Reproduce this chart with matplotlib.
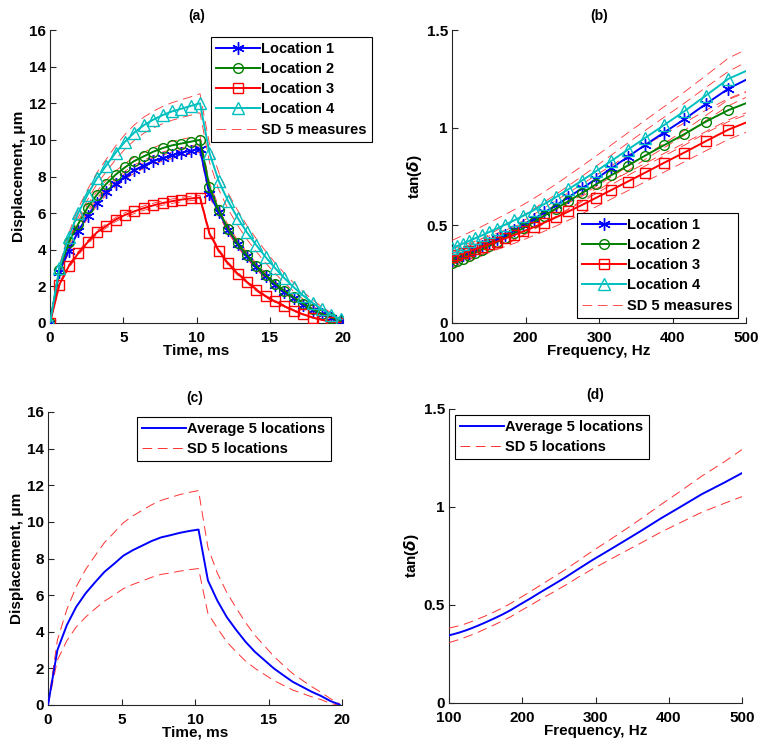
import matplotlib
matplotlib.use("Agg")
import matplotlib.pyplot as plt
import numpy as np

plt.rcParams['font.family'] = ['Liberation Sans', 'DejaVu Sans']
plt.rcParams['font.weight'] = 'bold'
plt.rcParams['lines.scale_dashes'] = False

# ---------------- data ----------------
time_ms = [0, 0.64, 1.28, 1.92, 2.56, 3.2, 3.84, 4.48, 5.12, 5.76, 6.4, 7.04, 7.68,
           8.32, 8.96, 9.6, 10.24, 10.88, 11.52, 12.16, 12.8, 13.44, 14.08, 14.72,
           15.36, 16.0, 16.64, 17.28, 17.92, 18.56, 19.2, 19.84]

disp_loc1 = [0, 2.8, 3.95, 5.0, 5.85, 6.55, 7.15, 7.6, 8.0, 8.35, 8.6, 8.85, 9.0, 9.15, 9.3, 9.4, 9.5,
             7.05, 6.05, 5.1, 4.3, 3.65, 3.05, 2.55, 2.1, 1.7, 1.35, 1.0, 0.72, 0.48, 0.28, 0.1]
disp_loc2 = [0, 2.9, 4.4, 5.4, 6.3, 7.0, 7.6, 8.1, 8.5, 8.85, 9.1, 9.35, 9.55, 9.7, 9.8, 9.9, 10.0,
             7.45, 6.15, 5.15, 4.35, 3.7, 3.1, 2.6, 2.15, 1.75, 1.4, 1.05, 0.75, 0.5, 0.3, 0.12]
disp_loc3 = [0, 2.1, 3.1, 3.8, 4.4, 4.95, 5.3, 5.65, 5.9, 6.1, 6.27, 6.42, 6.55, 6.65, 6.74, 6.8, 6.85,
             4.9, 3.95, 3.25, 2.7, 2.25, 1.82, 1.45, 1.18, 0.92, 0.68, 0.47, 0.3, 0.17, 0.07, 0.02]
disp_loc4 = [0, 3.0, 4.7, 6.0, 7.0, 7.9, 8.6, 9.3, 9.9, 10.4, 10.8, 11.1, 11.35, 11.55, 11.7, 11.85, 12.0,
             9.3, 7.75, 6.65, 5.75, 4.95, 4.25, 3.6, 3.0, 2.45, 1.95, 1.5, 1.1, 0.75, 0.45, 0.2]

disp_sd1 = [0, 0.1, 0.12, 0.13, 0.14, 0.15, 0.15, 0.16, 0.16, 0.16, 0.17, 0.17, 0.17, 0.17, 0.17, 0.18, 0.18,
            0.17, 0.16, 0.15, 0.14, 0.13, 0.12, 0.11, 0.1, 0.09, 0.08, 0.07, 0.06, 0.05, 0.04, 0.03]
disp_sd2 = [0, 0.12, 0.15, 0.17, 0.18, 0.19, 0.2, 0.2, 0.21, 0.21, 0.22, 0.22, 0.22, 0.22, 0.23, 0.23, 0.23,
            0.22, 0.2, 0.19, 0.17, 0.16, 0.15, 0.13, 0.12, 0.1, 0.09, 0.08, 0.06, 0.05, 0.04, 0.03]
disp_sd3 = [0, 0.08, 0.09, 0.1, 0.1, 0.11, 0.11, 0.11, 0.12, 0.12, 0.12, 0.12, 0.12, 0.12, 0.12, 0.12, 0.12,
            0.11, 0.1, 0.09, 0.08, 0.07, 0.07, 0.06, 0.05, 0.05, 0.04, 0.03, 0.03, 0.02, 0.02, 0.01]
disp_sd4 = [0, 0.15, 0.2, 0.25, 0.28, 0.31, 0.34, 0.37, 0.4, 0.42, 0.44, 0.46, 0.47, 0.48, 0.49, 0.5, 0.52,
            0.5, 0.47, 0.44, 0.41, 0.38, 0.35, 0.32, 0.29, 0.26, 0.23, 0.2, 0.17, 0.13, 0.1, 0.06]

disp_avg = [0, 3.0, 4.36, 5.36, 6.1, 6.7, 7.27, 7.7, 8.15, 8.45, 8.7, 8.95, 9.15, 9.27, 9.4, 9.5, 9.58,
            6.8, 5.7, 4.8, 4.1, 3.45, 2.9, 2.45, 2.0, 1.63, 1.27, 1.0, 0.73, 0.5, 0.22, 0.02]
disp_avg_sd = [0, 0.55, 0.85, 1.1, 1.3, 1.45, 1.6, 1.7, 1.8, 1.87, 1.93, 1.98, 2.02, 2.06, 2.09, 2.11, 2.13,
               1.8, 1.5, 1.35, 1.2, 1.05, 0.9, 0.78, 0.66, 0.55, 0.45, 0.36, 0.28, 0.2, 0.13, 0.05]

freq_hz = [100, 107.0, 114.5, 122.6, 131.2, 140.4, 150.3, 160.8, 172.1, 184.2, 197.1, 210.9,
           225.7, 241.6, 258.5, 276.7, 296.1, 316.9, 339.1, 362.9, 388.4, 415.7, 444.9, 476.1, 500]

tan_loc1 = [0.32, 0.333, 0.346, 0.36, 0.375, 0.392, 0.41, 0.43, 0.452, 0.476, 0.502, 0.532, 0.566,
            0.603, 0.644, 0.689, 0.738, 0.792, 0.85, 0.912, 0.975, 1.042, 1.12, 1.20, 1.245]
tan_loc2 = [0.307, 0.318, 0.33, 0.344, 0.359, 0.376, 0.394, 0.414, 0.436, 0.46, 0.486, 0.516, 0.55,
            0.586, 0.624, 0.665, 0.71, 0.757, 0.806, 0.857, 0.91, 0.966, 1.03, 1.09, 1.125]
tan_loc3 = [0.34, 0.348, 0.357, 0.367, 0.378, 0.39, 0.403, 0.417, 0.433, 0.45, 0.469, 0.49, 0.514,
            0.541, 0.571, 0.604, 0.641, 0.681, 0.724, 0.77, 0.82, 0.872, 0.93, 0.99, 1.026]
tan_loc4 = [0.383, 0.394, 0.406, 0.419, 0.433, 0.448, 0.465, 0.483, 0.503, 0.525, 0.549, 0.577, 0.609,
            0.645, 0.685, 0.729, 0.777, 0.83, 0.887, 0.948, 1.013, 1.083, 1.163, 1.25, 1.29]

tan_sd1 = [0.035, 0.036, 0.037, 0.038, 0.039, 0.04, 0.042, 0.044, 0.046, 0.048, 0.05, 0.052, 0.054,
           0.056, 0.059, 0.062, 0.065, 0.068, 0.071, 0.074, 0.078, 0.082, 0.085, 0.088, 0.09]
tan_sd2 = [0.03, 0.03, 0.031, 0.031, 0.032, 0.033, 0.034, 0.035, 0.036, 0.037, 0.038, 0.039, 0.04,
           0.042, 0.043, 0.045, 0.047, 0.049, 0.051, 0.053, 0.055, 0.057, 0.058, 0.059, 0.06]
tan_sd3 = [0.04, 0.04, 0.04, 0.041, 0.041, 0.041, 0.042, 0.042, 0.042, 0.043, 0.043, 0.043, 0.044,
           0.044, 0.045, 0.045, 0.046, 0.046, 0.047, 0.047, 0.048, 0.048, 0.049, 0.05, 0.05]
tan_sd4 = [0.04, 0.041, 0.042, 0.043, 0.044, 0.046, 0.048, 0.05, 0.052, 0.054, 0.057, 0.06, 0.063,
           0.066, 0.07, 0.074, 0.078, 0.082, 0.086, 0.09, 0.094, 0.098, 0.102, 0.106, 0.11]

tan_avg = [0.345, 0.352, 0.36, 0.37, 0.382, 0.396, 0.412, 0.43, 0.45, 0.474, 0.503, 0.533, 0.567,
           0.602, 0.64, 0.684, 0.73, 0.776, 0.826, 0.88, 0.94, 1.0, 1.065, 1.125, 1.173]
tan_avg_sd = [0.037, 0.036, 0.035, 0.034, 0.034, 0.034, 0.033, 0.033, 0.033, 0.034, 0.034, 0.035, 0.036,
              0.038, 0.04, 0.042, 0.046, 0.05, 0.055, 0.062, 0.07, 0.08, 0.092, 0.106, 0.12]

loc_labels = ['Location 1', 'Location 2', 'Location 3', 'Location 4']
sd_label_a = 'SD 5 measures'
avg_label = 'Average 5 locations'
sd_label_c = 'SD 5 locations'

# ---------------- styles ----------------
colors = ['#0000ff', '#008000', '#ff0000', '#00bfbf']
markers = [(6, 2, 0), 'o', 's', '^']
msizes = [9, 7, 7, 8]
sd_color = '#ff3030'
dash = (7, 4)
FS = 11
LFS = 10.5

fig = plt.figure(figsize=(7.62, 7.5), dpi=100)
W, H = 762.0, 750.0

def add_ax(l, r, t, b):
    return fig.add_axes([l / W, 1 - b / H, (r - l) / W, (b - t) / H])

ax_a = add_ax(50, 343, 30, 323)
ax_b = add_ax(452, 746, 30, 323)
ax_c = add_ax(48, 342, 412, 705)
ax_d = add_ax(449, 742, 409, 703)

def style(ax, title, xlabel, ylabel):
    for s in ['top', 'right']:
        ax.spines[s].set_visible(False)
    for s in ['left', 'bottom']:
        ax.spines[s].set_linewidth(0.8)
        ax.spines[s].set_color('#262626')
    ax.tick_params(direction='in', length=4, width=0.8, labelsize=FS, colors='#262626')
    ax.tick_params(axis='x', pad=6)
    ax.tick_params(axis='y', pad=3)
    for lab in ax.get_xticklabels() + ax.get_yticklabels():
        lab.set_fontweight('bold')
        lab.set_color('black')
    ax.set_title(title, fontsize=10, fontweight='bold', pad=7)
    ax.set_xlabel(xlabel, fontsize=FS, fontweight='bold', labelpad=-1)
    ax.set_ylabel(ylabel, fontsize=FS, fontweight='bold', labelpad=2)

def legend(ax, handles, labels, l, t):
    leg = ax.legend(handles, labels, loc='upper left', bbox_to_anchor=(l / W, 1 - t / H),
                    bbox_transform=fig.transFigure, fancybox=False, framealpha=1,
                    edgecolor='black', prop={'weight': 'bold', 'size': LFS},
                    handlelength=3.0, handletextpad=0.1, borderpad=0.35, labelspacing=0.42,
                    borderaxespad=0)
    leg.get_frame().set_linewidth(0.8)
    return leg

t = np.array(time_ms)
f = np.array(freq_hz)

# ---- (a)
loc_a = [disp_loc1, disp_loc2, disp_loc3, disp_loc4]
sd_a = [disp_sd1, disp_sd2, disp_sd3, disp_sd4]
handles = []
for i in range(4):
    m = np.array(loc_a[i]); s = np.array(sd_a[i])
    ax_a.plot(t, m + s, color=sd_color, lw=0.6, dashes=dash, zorder=3)
    ax_a.plot(t, m - s, color=sd_color, lw=0.6, dashes=dash, zorder=3)
for i in range(4):
    h, = ax_a.plot(t, loc_a[i], color=colors[i], marker=markers[i], ms=msizes[i],
                   mfc='none', mew=1.0, lw=1.4, zorder=4)
    handles.append(h)
sdh, = ax_a.plot([], [], color=sd_color, lw=0.6, dashes=dash)
ax_a.set_xlim(0, 20); ax_a.set_ylim(0, 16)
ax_a.set_xticks([0, 5, 10, 15, 20]); ax_a.set_yticks(range(0, 17, 2))
style(ax_a, '(a)', 'Time, ms', 'Displacement, \u03bcm')
legend(ax_a, handles + [sdh], loc_labels + [sd_label_a], 211, 37)

# ---- (b)
loc_b = [tan_loc1, tan_loc2, tan_loc3, tan_loc4]
sd_b = [tan_sd1, tan_sd2, tan_sd3, tan_sd4]
handles = []
for i in range(4):
    m = np.array(loc_b[i]); s = np.array(sd_b[i])
    ax_b.plot(f, m + s, color=sd_color, lw=0.6, dashes=dash, zorder=3)
    ax_b.plot(f, m - s, color=sd_color, lw=0.6, dashes=dash, zorder=3)
for i in range(4):
    h, = ax_b.plot(f, loc_b[i], color=colors[i], marker=markers[i], ms=msizes[i],
                   mfc='none', mew=1.0, lw=1.4, zorder=4, markevery=list(range(len(f) - 1)))
    handles.append(h)
sdh, = ax_b.plot([], [], color=sd_color, lw=0.6, dashes=dash)
ax_b.set_xlim(100, 500); ax_b.set_ylim(0, 1.5)
ax_b.set_xticks([100, 200, 300, 400, 500]); ax_b.set_yticks([0, 0.5, 1, 1.5])
ax_b.set_yticklabels(['0', '0.5', '1', '1.5'])
style(ax_b, '(b)', 'Frequency, Hz', r'tan($\delta$)')
legend(ax_b, handles + [sdh], loc_labels + [sd_label_a], 577, 213)

# ---- (c)
m = np.array(disp_avg); s = np.array(disp_avg_sd)
h1, = ax_c.plot(t, m, color='#0000ff', lw=1.4, zorder=4)
h2, = ax_c.plot(t, m + s, color=sd_color, lw=0.7, dashes=dash, zorder=3)
ax_c.plot(t, m - s, color=sd_color, lw=0.7, dashes=dash, zorder=3)
ax_c.set_xlim(0, 20); ax_c.set_ylim(0, 16)
ax_c.set_xticks([0, 5, 10, 15, 20]); ax_c.set_yticks(range(0, 17, 2))
style(ax_c, '(c)', 'Time, ms', 'Displacement, \u03bcm')
legend(ax_c, [h1, h2], [avg_label, sd_label_c], 137, 417)

# ---- (d)
m = np.array(tan_avg); s = np.array(tan_avg_sd)
h1, = ax_d.plot(f, m, color='#0000ff', lw=1.4, zorder=4)
h2, = ax_d.plot(f, m + s, color=sd_color, lw=0.7, dashes=dash, zorder=3)
ax_d.plot(f, m - s, color=sd_color, lw=0.7, dashes=dash, zorder=3)
ax_d.set_xlim(100, 500); ax_d.set_ylim(0, 1.5)
ax_d.set_xticks([100, 200, 300, 400, 500]); ax_d.set_yticks([0, 0.5, 1, 1.5])
ax_d.set_yticklabels(['0', '0.5', '1', '1.5'])
style(ax_d, '(d)', 'Frequency, Hz', r'tan($\delta$)')
legend(ax_d, [h1, h2], [avg_label, sd_label_c], 455, 415)

fig.savefig('out.png', dpi=100)
